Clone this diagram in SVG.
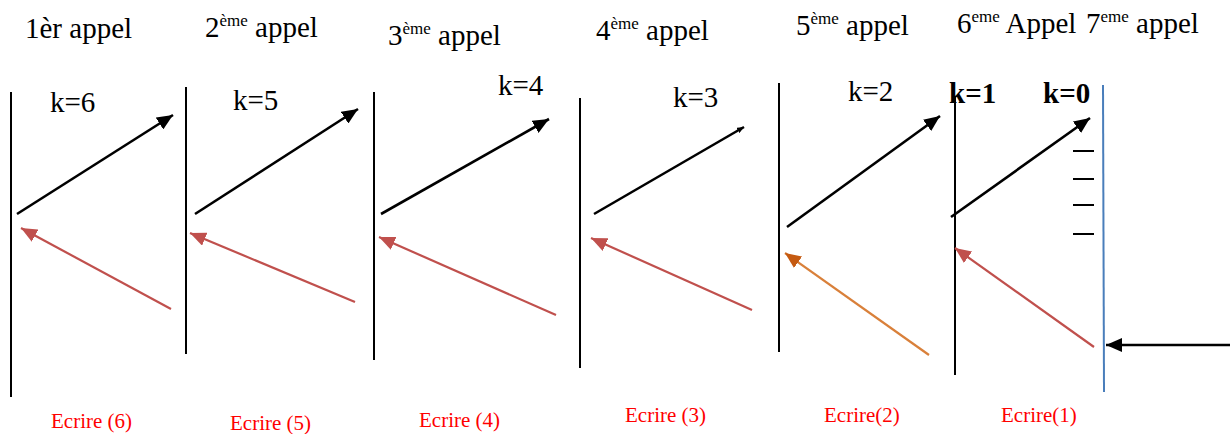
<svg xmlns="http://www.w3.org/2000/svg" width="1232" height="434" viewBox="0 0 1232 434">
<style>
.t{font-family:"Liberation Serif","Times New Roman",serif;fill:#000;font-size:29px}
.s{font-size:17px}
.kb{font-weight:bold}
.e{font-family:"Liberation Serif","Times New Roman",serif;fill:#ff0000;font-size:21px}
.v{stroke:#000;stroke-width:2;fill:none}
.ab{stroke:#000;stroke-width:2.6;fill:none;marker-end:url(#hb)}
.ar{stroke:#c0504d;stroke-width:2.2;fill:none;marker-end:url(#hr)}
</style>
<defs>
<marker id="hb" markerUnits="userSpaceOnUse" markerWidth="18" markerHeight="14" refX="16" refY="7" orient="auto"><path d="M0,0 L16,7 L0,14 Z" fill="#000"/></marker>
<marker id="hs" markerUnits="userSpaceOnUse" markerWidth="8" markerHeight="6" refX="7" refY="3" orient="auto"><path d="M0,0 L7,3 L0,6 Z" fill="#000"/></marker>
<marker id="hr" markerUnits="userSpaceOnUse" markerWidth="18" markerHeight="14" refX="16" refY="7" orient="auto"><path d="M0,0 L16,7 L0,14 Z" fill="#c0504d"/></marker>
<marker id="ho" markerUnits="userSpaceOnUse" markerWidth="18" markerHeight="14" refX="16" refY="7" orient="auto"><path d="M0,0 L16,7 L0,14 Z" fill="#c55a11"/></marker>
</defs>
<g id="titles">
<text class="t" x="25" y="38">1èr appel</text>
<text class="t" x="205" y="37">2<tspan class="s" dy="-11">ème</tspan><tspan dy="11"> appel</tspan></text>
<text class="t" x="388" y="45">3<tspan class="s" dy="-11">ème</tspan><tspan dy="11"> appel</tspan></text>
<text class="t" x="596" y="40">4<tspan class="s" dy="-11">ème</tspan><tspan dy="11"> appel</tspan></text>
<text class="t" x="796" y="35">5<tspan class="s" dy="-11">ème</tspan><tspan dy="11"> appel</tspan></text>
<text class="t" x="957" y="33">6<tspan class="s" dy="-11">eme</tspan><tspan dy="11"> Appel</tspan></text>
<text class="t" x="1086" y="33">7<tspan class="s" dy="-11">eme</tspan><tspan dy="11"> appel</tspan></text>
</g>
<g id="call1">
<line class="v" x1="11" y1="92" x2="11" y2="397"/>
<text class="t" x="50" y="112">k=6</text>
<text class="e" x="51" y="428">Ecrire (6)</text>
</g>
<g id="call2">
<line class="v" x1="186" y1="87" x2="186" y2="354"/>
<text class="t" x="233" y="110">k=5</text>
<text class="e" x="230" y="430">Ecrire (5)</text>
</g>
<g id="call3">
<line class="v" x1="374" y1="92" x2="374" y2="360"/>
<text class="t" x="498" y="95">k=4</text>
<text class="e" x="419" y="427">Ecrire (4)</text>
</g>
<g id="call4">
<line class="v" x1="580" y1="98" x2="580" y2="368"/>
<text class="t" x="673" y="107">k=3</text>
<text class="e" x="625" y="422">Ecrire (3)</text>
</g>
<g id="call5">
<line class="v" x1="779" y1="83" x2="779" y2="352"/>
<text class="t" x="848" y="101">k=2</text>
<text class="e" x="824" y="422">Ecrire(2)</text>
</g>
<g id="call6">
<line class="v" x1="955" y1="97" x2="955" y2="375"/>
<text class="t kb" x="949" y="103">k=1</text>
<text class="e" x="1001" y="422">Ecrire(1)</text>
</g>
<g id="call7">
<line x1="1103" y1="85" x2="1104" y2="392" stroke="#4a7ebb" stroke-width="2"/>
<text class="t kb" x="1043" y="103">k=0</text>
<g stroke="#000" stroke-width="2">
<line x1="1073" y1="151" x2="1094" y2="151"/>
<line x1="1073" y1="179" x2="1094" y2="179"/>
<line x1="1073" y1="205" x2="1094" y2="205"/>
<line x1="1073" y1="234" x2="1094" y2="234"/>
</g>
</g>
<g id="connectors">
<line class="ab" x1="17" y1="214" x2="173" y2="115"/>
<line class="ab" x1="195" y1="214" x2="358" y2="109"/>
<line class="ab" x1="381" y1="214" x2="549" y2="119"/>
<line x1="594" y1="214" x2="744" y2="127" stroke="#000" stroke-width="2.6" marker-end="url(#hs)"/>
<line class="ab" x1="787" y1="227" x2="940" y2="116"/>
<line class="ab" x1="951" y1="217" x2="1090" y2="118"/>
<line class="ar" x1="171" y1="309" x2="21" y2="228"/>
<line class="ar" x1="355" y1="302" x2="190" y2="233"/>
<line class="ar" x1="556" y1="315" x2="379" y2="237"/>
<line class="ar" x1="752" y1="310" x2="591" y2="238"/>
<line x1="929" y1="355" x2="785" y2="253" stroke="#d9803a" stroke-width="2.2" marker-end="url(#ho)"/>
<line class="ar" x1="1094" y1="347" x2="955" y2="248"/>
<line class="ab" x1="1230" y1="345" x2="1106" y2="345"/>
</g>
</svg>
